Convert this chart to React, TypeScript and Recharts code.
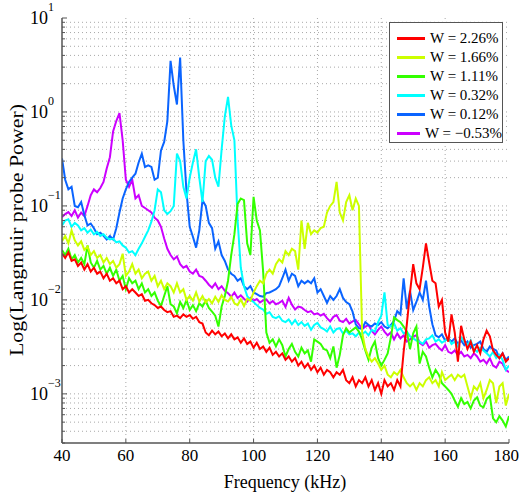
import React from "react";
import { LineChart, Line, XAxis, YAxis, ReferenceLine } from "recharts";

// frequency samples, kHz (1 kHz step)
const freqs = Array.from({ length: 141 }, (_, i) => 40 + i);

// spectra, one value per kHz from 40 to 180
const w226 = [
  0.031, 0.028, 0.032, 0.026, 0.027, 0.023, 0.025, 0.021, 0.024, 0.02,
  0.022, 0.019, 0.02, 0.017, 0.019, 0.016, 0.017, 0.015, 0.016, 0.013,
  0.014, 0.012, 0.013, 0.012, 0.011, 0.0115, 0.0098, 0.01, 0.0092, 0.0088,
  0.0082, 0.0085, 0.0078, 0.0074, 0.0076, 0.0066, 0.0068, 0.0064, 0.007, 0.0066,
  0.0069, 0.0063, 0.0066, 0.0058, 0.0056, 0.0045, 0.0042, 0.0047, 0.0043, 0.0046,
  0.0041, 0.0044, 0.0039, 0.0043, 0.0038, 0.004, 0.0035, 0.0039, 0.0034, 0.0036,
  0.0031, 0.0035, 0.003, 0.0032, 0.0028, 0.0031, 0.0026, 0.0028, 0.0025, 0.0027,
  0.0023, 0.0025, 0.0022, 0.0024, 0.002, 0.0022, 0.0019, 0.0021, 0.0018, 0.002,
  0.0017, 0.0019, 0.0016, 0.0018, 0.0017, 0.0015, 0.0017, 0.0016, 0.0018, 0.0014,
  0.0013, 0.0015, 0.0012, 0.0014, 0.0013, 0.0015, 0.0012, 0.0014, 0.0011, 0.0013,
  0.001, 0.0014, 0.0012, 0.0013, 0.0011, 0.0014, 0.0012, 0.0028, 0.0055, 0.012,
  0.024, 0.015, 0.013, 0.022, 0.04, 0.025, 0.016, 0.015, 0.0085, 0.01,
  0.0045, 0.0036, 0.007, 0.0045, 0.0022, 0.0053, 0.0038, 0.003, 0.0036, 0.0028,
  0.0033, 0.0027, 0.0038, 0.0047, 0.0041, 0.0029, 0.0026, 0.0024, 0.0027, 0.0022,
  0.0024,
];

const w166 = [
  0.042, 0.048, 0.04, 0.055, 0.043, 0.038, 0.042, 0.034, 0.037, 0.03,
  0.033, 0.028, 0.03, 0.025, 0.028, 0.024, 0.026, 0.022, 0.024, 0.031,
  0.018, 0.02, 0.024, 0.019, 0.021, 0.017, 0.019, 0.02, 0.016, 0.018,
  0.014, 0.016, 0.013, 0.015, 0.014, 0.012, 0.015, 0.012, 0.013, 0.01,
  0.011, 0.0098, 0.012, 0.0096, 0.011, 0.0094, 0.0102, 0.0092, 0.0108, 0.0095,
  0.0112, 0.01, 0.0096, 0.0108, 0.0092, 0.0088, 0.0101, 0.0086, 0.0103, 0.0098,
  0.012, 0.014, 0.016, 0.015, 0.019, 0.021, 0.019, 0.024, 0.027, 0.025,
  0.033, 0.03, 0.035, 0.033, 0.021, 0.07, 0.035, 0.066, 0.05, 0.055,
  0.052, 0.058, 0.06, 0.085, 0.1, 0.11, 0.18, 0.085, 0.07, 0.11,
  0.13, 0.09, 0.12, 0.1, 0.0045, 0.003, 0.0025, 0.0022, 0.0024, 0.0021,
  0.0018, 0.002, 0.0016, 0.0015, 0.0017, 0.0016, 0.0018, 0.0015, 0.0013, 0.0012,
  0.0013, 0.0011, 0.0013, 0.0012, 0.0014, 0.0015, 0.0013, 0.0014, 0.0012, 0.0017,
  0.0014, 0.0015, 0.0016, 0.0014, 0.0016, 0.0015, 0.0016, 0.0012, 0.0009, 0.0012,
  0.0011, 0.0013, 0.0009, 0.0011, 0.0014, 0.0013, 0.0008, 0.0012, 0.0013, 0.00075,
  0.001,
];

const w111 = [
  0.034, 0.03, 0.035, 0.027, 0.03, 0.025, 0.028, 0.024, 0.038, 0.025,
  0.022, 0.026, 0.021, 0.023, 0.019, 0.022, 0.018, 0.021, 0.016, 0.018,
  0.013, 0.017, 0.015, 0.016, 0.013, 0.015, 0.012, 0.013, 0.011, 0.012,
  0.0098, 0.0086, 0.011, 0.014, 0.009, 0.0085, 0.0072, 0.0095, 0.0082, 0.01,
  0.0078, 0.0088, 0.0076, 0.0092, 0.0085, 0.0098, 0.0082, 0.0075, 0.0068, 0.0052,
  0.0085, 0.011, 0.016, 0.03, 0.05, 0.105, 0.12, 0.115, 0.04, 0.03,
  0.125, 0.07, 0.055, 0.02, 0.0045, 0.0035, 0.0038, 0.0032, 0.0038, 0.0033,
  0.0025, 0.003, 0.0034, 0.0028, 0.0025, 0.0031, 0.0027, 0.0029, 0.0022, 0.0038,
  0.0036, 0.0034, 0.003, 0.0029, 0.0024, 0.0032, 0.0019, 0.0026, 0.0042, 0.005,
  0.0045, 0.0048, 0.0051, 0.0046, 0.0038, 0.0029, 0.0023, 0.0031, 0.0036, 0.0024,
  0.002, 0.0023, 0.0027, 0.004, 0.0065, 0.0061, 0.0058, 0.0052, 0.0046, 0.003,
  0.0044, 0.0052, 0.0021, 0.0028, 0.0025, 0.0019, 0.0015, 0.0018, 0.0016, 0.0013,
  0.0012, 0.0011, 0.001, 0.00085, 0.00073, 0.0009, 0.00078, 0.00082, 0.0007, 0.00085,
  0.00092, 0.00075, 0.00072, 0.00088, 0.00095, 0.00055, 0.0005, 0.00058, 0.00052, 0.00045,
  0.00058,
];

const w032 = [
  0.062, 0.07, 0.072, 0.06, 0.066, 0.062, 0.055, 0.058, 0.052, 0.056,
  0.05, 0.053, 0.048, 0.05, 0.046, 0.044, 0.045, 0.041, 0.042, 0.038,
  0.036, 0.032, 0.033, 0.03, 0.035, 0.04, 0.047, 0.055, 0.068, 0.09,
  0.15, 0.14, 0.09, 0.082, 0.088, 0.1, 0.36, 0.3, 0.16, 0.12,
  0.2, 0.29, 0.4, 0.2, 0.11, 0.3, 0.34, 0.31, 0.2, 0.16,
  0.4, 0.9, 1.45, 0.72, 0.5, 0.07, 0.022, 0.014, 0.011, 0.01,
  0.0095, 0.0088, 0.0082, 0.0079, 0.0071, 0.0074, 0.0066, 0.0064, 0.0067, 0.006,
  0.0058, 0.0062, 0.0055, 0.0061, 0.0054, 0.0058, 0.0053, 0.0056, 0.0048, 0.0054,
  0.0057, 0.0051, 0.0049, 0.0046, 0.0052, 0.0045, 0.0049, 0.005, 0.0044, 0.0047,
  0.0043, 0.0044, 0.0041, 0.0045, 0.0043, 0.0046, 0.0042, 0.0048, 0.0046, 0.0058,
  0.0068, 0.012, 0.0054, 0.0052, 0.0056, 0.0047, 0.005, 0.0044, 0.0046, 0.0041,
  0.0039, 0.0037, 0.0036, 0.0034, 0.0038, 0.0039, 0.0042, 0.0036, 0.0038, 0.0035,
  0.0037, 0.0039, 0.0034, 0.0036, 0.0032, 0.004, 0.0036, 0.0033, 0.0037, 0.003,
  0.0028, 0.0031, 0.0029, 0.0027, 0.0025, 0.0028, 0.0024, 0.0026, 0.0023, 0.0018,
  0.002,
];

const w012 = [
  0.32, 0.19, 0.15, 0.16, 0.1, 0.097, 0.11, 0.08, 0.062, 0.065,
  0.058, 0.05, 0.052, 0.048, 0.044, 0.048, 0.044, 0.058, 0.085, 0.12,
  0.15, 0.18, 0.2, 0.22, 0.29, 0.36, 0.26, 0.27, 0.26, 0.19,
  0.2, 0.39, 0.48, 0.8, 3.5, 1.9, 1.2, 3.8, 0.5, 0.14,
  0.06, 0.047, 0.036, 0.055, 0.115, 0.1, 0.066, 0.058, 0.035, 0.042,
  0.03, 0.026, 0.021, 0.019, 0.018, 0.016, 0.017, 0.014, 0.013, 0.014,
  0.012, 0.0115, 0.011, 0.0108, 0.0118, 0.012, 0.0125, 0.013, 0.014, 0.017,
  0.021, 0.016, 0.019, 0.018, 0.014, 0.016, 0.015, 0.016, 0.015, 0.017,
  0.012, 0.013, 0.011, 0.0093, 0.011, 0.01, 0.011, 0.013, 0.0105, 0.0095,
  0.009, 0.0075, 0.0055, 0.005, 0.0049, 0.0058, 0.0054, 0.0052, 0.0056, 0.0054,
  0.0058, 0.0052, 0.005, 0.0054, 0.006, 0.0076, 0.007, 0.017, 0.008, 0.0125,
  0.0078, 0.0095, 0.012, 0.01, 0.016, 0.0085, 0.0055, 0.0042, 0.004, 0.0043,
  0.0037, 0.0039, 0.0036, 0.0039, 0.0034, 0.0037, 0.0033, 0.0036, 0.0031, 0.0033,
  0.0034, 0.0036, 0.003, 0.0028, 0.0032, 0.003, 0.0029, 0.0024, 0.0027, 0.0023,
  0.0025,
];

const wm053 = [
  0.076, 0.082, 0.086, 0.078, 0.09, 0.075, 0.085, 0.078, 0.1, 0.13,
  0.15, 0.14, 0.155, 0.18, 0.25, 0.33, 0.62, 0.8, 0.97, 0.5,
  0.19, 0.16, 0.19, 0.12, 0.13, 0.1, 0.095, 0.09, 0.085, 0.075,
  0.07, 0.06, 0.045, 0.035, 0.03, 0.027, 0.029, 0.024, 0.022, 0.023,
  0.02, 0.019, 0.021, 0.018, 0.0175, 0.016, 0.0145, 0.0135, 0.015, 0.013,
  0.014, 0.0125, 0.0118, 0.0108, 0.012, 0.0105, 0.0112, 0.0103, 0.0096, 0.0105,
  0.0098, 0.0102, 0.0094, 0.0099, 0.0101, 0.0092, 0.0097, 0.009, 0.0093, 0.0098,
  0.0084, 0.0105, 0.0089, 0.0079, 0.0085, 0.0083, 0.0078, 0.0074, 0.0076, 0.007,
  0.0072, 0.0068, 0.0071, 0.0064, 0.0059, 0.0066, 0.0069, 0.006, 0.0058, 0.0063,
  0.0056, 0.0059, 0.0061, 0.0055, 0.0049, 0.0052, 0.0054, 0.0047, 0.0043, 0.0048,
  0.0052, 0.0046, 0.0042, 0.0045, 0.0038, 0.0044, 0.0039, 0.0042, 0.0036, 0.0038,
  0.0041, 0.0042, 0.0035, 0.0033, 0.0036, 0.0031, 0.0033, 0.0034, 0.0031, 0.0029,
  0.0033, 0.0028, 0.0027, 0.0029, 0.0026, 0.0028, 0.0025, 0.0026, 0.0024, 0.0027,
  0.0025, 0.0022, 0.0023, 0.0021, 0.0024, 0.002, 0.0019, 0.0022, 0.0021, 0.0018,
  0.0017,
];

const series = [
  { key: "w226", name: "W = 2.26%", color: "#ff0000", values: w226 },
  { key: "w166", name: "W = 1.66%", color: "#ccff00", values: w166 },
  { key: "w111", name: "W = 1.11%", color: "#33ff00", values: w111 },
  { key: "w032", name: "W = 0.32%", color: "#00ffff", values: w032 },
  { key: "w012", name: "W = 0.12%", color: "#0a64ff", values: w012 },
  { key: "wm053", name: "W = \u22120.53%", color: "#cc00ff", values: wm053 },
];

const xTicks = [40, 60, 80, 100, 120, 140, 160, 180];
const xGrid = [60, 80, 100, 120, 140, 160];
const yDecades = [0.001, 0.01, 0.1, 1, 10];
const yMinor = [
  0.0003, 0.0004, 0.0005, 0.0006, 0.0007, 0.0008, 0.0009,
  0.002, 0.003, 0.004, 0.005, 0.006, 0.007, 0.008, 0.009,
  0.02, 0.03, 0.04, 0.05, 0.06, 0.07, 0.08, 0.09,
  0.2, 0.3, 0.4, 0.5, 0.6, 0.7, 0.8, 0.9,
  2, 3, 4, 5, 6, 7, 8, 9,
];
const yTicks = [...yMinor, ...yDecades].sort((a, b) => a - b);

const data = freqs.map((f, i) => {
  const row: Record<string, number> = { f };
  series.forEach((s) => (row[s.key] = s.values[i]));
  return row;
});

const FONT = '"Liberation Serif", "Times New Roman", serif';
const AXIS = "#555";
const GRID = "#a8a8a8";

const isDecade = (v: number) => {
  const l = Math.log10(v);
  return Math.abs(l - Math.round(l)) < 1e-6;
};

const LeftTick = (props: any) => {
  const { x, y, payload } = props;
  const v = payload.value;
  const major = isDecade(v);
  const e = Math.round(Math.log10(v));
  return (
    <g>
      <line x1={x} y1={y} x2={x + (major ? 5 : 3)} y2={y} stroke={AXIS} />
      {major && (
        <>
          <text x={x - 14} y={y + 6} textAnchor="end" fontSize={18} fill="#000">
            10
          </text>
          <text x={x - 14} y={y - 7} textAnchor="start" fontSize={12} fill="#000">
            {e < 0 ? "\u2212" + -e : String(e)}
          </text>
        </>
      )}
    </g>
  );
};

const RightTick = (props: any) => {
  const { x, y, payload } = props;
  const major = isDecade(payload.value);
  return <line x1={x} y1={y} x2={x - (major ? 5 : 3)} y2={y} stroke={AXIS} />;
};

const BottomTick = (props: any) => {
  const { x, y, payload } = props;
  const last = payload.value === 180;
  return (
    <g>
      <line x1={x} y1={y} x2={x} y2={y - 4} stroke={AXIS} />
      <text
        x={last ? x + 10 : x}
        y={y + 18}
        textAnchor={last ? "end" : "middle"}
        fontSize={17}
        fill="#000"
      >
        {payload.value}
      </text>
    </g>
  );
};

const TopTick = (props: any) => {
  const { x, y } = props;
  return <line x1={x} y1={y} x2={x} y2={y + 4} stroke={AXIS} />;
};

const XTitle = () => (
  <text x={285} y={488} textAnchor="middle" fontSize={18} fill="#000">
    Frequency (kHz)
  </text>
);

const YTitle = () => (
  <text
    x={23}
    y={230}
    transform="rotate(-90 23 230)"
    textAnchor="middle"
    fontSize={18}
    textLength={252}
    lengthAdjust="spacingAndGlyphs"
    fill="#000"
  >
    Log(Langmuir probe Power)
  </text>
);

const Legendbox = () => (
  <div
    style={{
      position: "absolute",
      left: 389,
      top: 22,
      width: 114,
      height: 121,
      border: "1px solid #555",
      background: "#fff",
      boxSizing: "border-box",
      paddingTop: 6,
      fontFamily: FONT,
      fontSize: 15,
      zIndex: 2,
    }}
  >
    {series.map((s) => (
      <div
        key={s.key}
        style={{ display: "flex", alignItems: "center", height: 19, whiteSpace: "nowrap" }}
      >
        <span
          style={{
            display: "inline-block",
            width: 28,
            height: 3,
            background: s.color,
            marginLeft: 7,
            marginRight: 5,
          }}
        />
        <span>{s.name}</span>
      </div>
    ))}
  </div>
);

export default function App() {
  // draw order: last legend entry first, so red ends on top
  const drawOrder = [...series].reverse();
  return (
    <div style={{ position: "absolute", left: 0, top: 0, width: 520, height: 496, fontFamily: FONT, background: "#fff" }}>
      <LineChart
        width={520}
        height={496}
        data={data}
        margin={{ top: 18, right: 11, bottom: 0, left: 8 }}
      >
        <XAxis
          dataKey="f"
          type="number"
          domain={[40, 180]}
          ticks={xTicks}
          interval={0}
          allowDataOverflow
          height={53}
          tickSize={0}
          tickMargin={0}
          tickLine={false}
          axisLine={{ stroke: AXIS, strokeWidth: 1.5 }}
          tick={<BottomTick />}
          label={<XTitle />}
        />
        <XAxis
          xAxisId="top"
          orientation="top"
          type="number"
          domain={[40, 180]}
          ticks={xTicks}
          interval={0}
          allowDataOverflow
          height={0}
          tickSize={0}
          tickMargin={0}
          tickLine={false}
          axisLine={{ stroke: AXIS, strokeWidth: 1.5 }}
          tick={<TopTick />}
        />
        <YAxis
          type="number"
          scale="log"
          domain={[0.0003, 10]}
          allowDataOverflow
          ticks={yTicks}
          interval={0}
          width={54}
          tickSize={0}
          tickMargin={0}
          tickLine={false}
          axisLine={{ stroke: AXIS, strokeWidth: 1.5 }}
          tick={<LeftTick />}
          label={<YTitle />}
        />
        <YAxis
          yAxisId="right"
          orientation="right"
          type="number"
          scale="log"
          domain={[0.0003, 10]}
          allowDataOverflow
          ticks={yTicks}
          interval={0}
          width={0}
          tickSize={0}
          tickMargin={0}
          tickLine={false}
          axisLine={{ stroke: AXIS, strokeWidth: 1.5 }}
          tick={<RightTick />}
        />
        {[...yMinor.filter((v) => v > 0.0003), ...yDecades.filter((v) => v < 10)].map((v) => (
          <ReferenceLine key={"h" + v} y={v} stroke={GRID} strokeDasharray="1 3" strokeWidth={1} />
        ))}
        {xGrid.map((v) => (
          <ReferenceLine key={"v" + v} x={v} stroke={GRID} strokeDasharray="1 3" strokeWidth={1} />
        ))}
        {drawOrder.map((s) => (
          <Line
            key={s.key}
            dataKey={s.key}
            name={s.name}
            stroke={s.color}
            strokeWidth={2}
            dot={false}
            type="linear"
            isAnimationActive={false}
          />
        ))}
      </LineChart>
      <Legendbox />
    </div>
  );
}
